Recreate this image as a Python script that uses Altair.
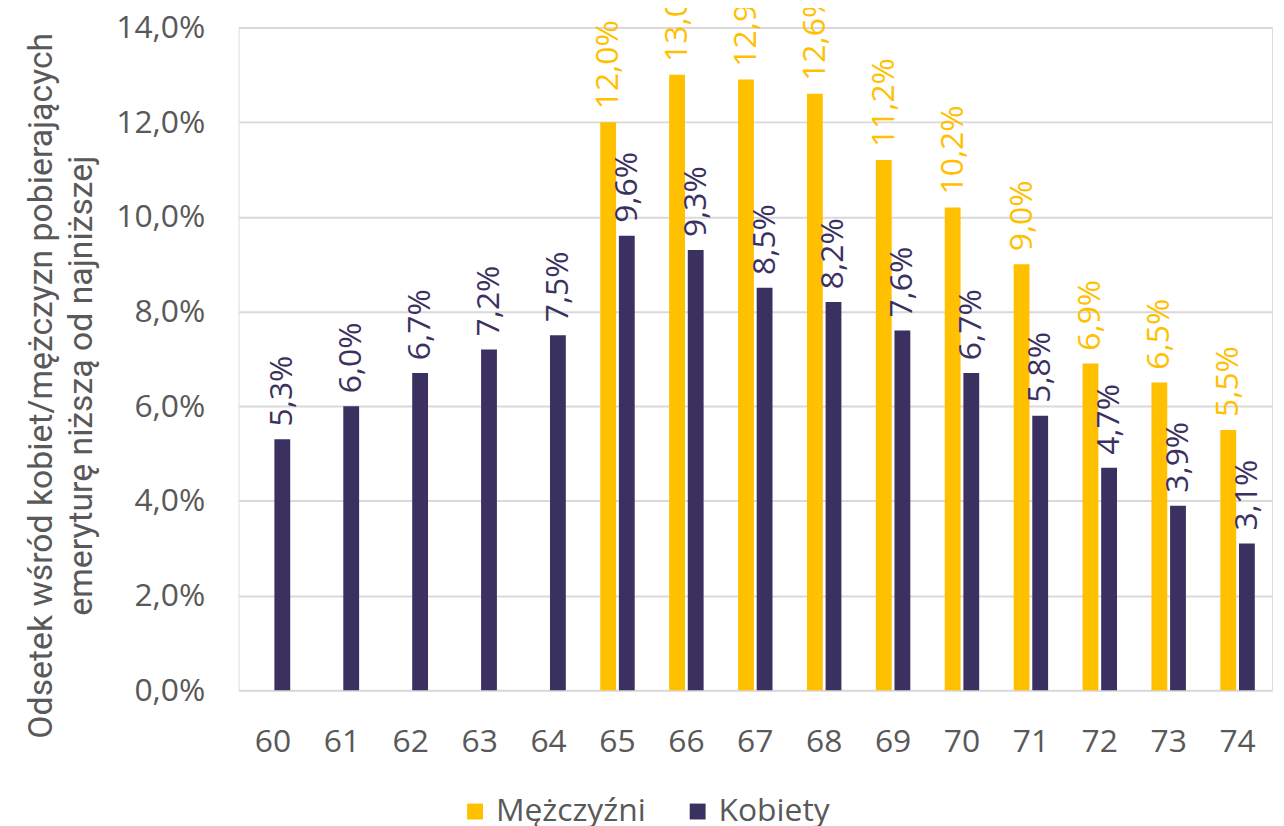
import altair as alt
import pandas as pd

ages = [60, 61, 62, 63, 64, 65, 66, 67, 68, 69, 70, 71, 72, 73, 74]
women = [5.3, 6.0, 6.7, 7.2, 7.5, 9.6, 9.3, 8.5, 8.2, 7.6, 6.7, 5.8, 4.7, 3.9, 3.1]
men_ages = [65, 66, 67, 68, 69, 70, 71, 72, 73, 74]
men = [12.0, 13.0, 12.9, 12.6, 11.2, 10.2, 9.0, 6.9, 6.5, 5.5]
series_names = ["Mężczyźni", "Kobiety"]
series_colors = ["#FFC000", "#3B3161"]
y_ticks = [0, 2, 4, 6, 8, 10, 12, 14]
y_title = ["Odsetek wśród kobiet/mężczyzn pobierających", "emeryturę niższą od najniższej"]

rows = []
for a, v in zip(men_ages, men):
    rows.append({"age": a, "series": series_names[0], "v": v})
for a, v in zip(ages, women):
    rows.append({"age": a, "series": series_names[1], "v": v})
df = pd.DataFrame(rows)

FONT = "Open Sans"
GRAY = "#595959"
FS = 32

x = alt.X("age:O", title=None,
          scale=alt.Scale(domain=ages, paddingInner=0.5, paddingOuter=0.25),
          axis=alt.Axis(labelAngle=0, labelFont=FONT, labelFontSize=FS, labelColor=GRAY,
                        labelPadding=37, ticks=False, domain=False, grid=False))
xo = alt.XOffset("series:N", scale=alt.Scale(domain=series_names, paddingInner=0.15))
y = alt.Y("v:Q", scale=alt.Scale(domain=[0, 14], nice=False),
          axis=alt.Axis(values=y_ticks, title=y_title,
                        labelExpr="replace(format(datum.value, '.1f'), '.', ',') + '%'",
                        labelFont=FONT, labelFontSize=FS, labelColor=GRAY, labelPadding=34,
                        ticks=False, domain=False, grid=True, gridColor="#D9D9D9", gridWidth=2,
                        titleFont="Roboto", titleFontSize=34, titleFontWeight="normal",
                        titleColor=GRAY, titleAngle=-90, titleAlign="center",
                        titleBaseline="middle", titleX=-198, titleY=360, titleLineHeight=40))
color = alt.Color("series:N", scale=alt.Scale(domain=series_names, range=series_colors),
                  legend=alt.Legend(title=None, orient="none", direction="horizontal",
                                    legendX=222, legendY=773, symbolType="square",
                                    symbolSize=256, symbolStrokeWidth=0,
                                    labelFont=FONT, labelFontSize=FS, labelColor=GRAY,
                                    columnPadding=36, labelOffset=5))

base = alt.Chart(df)
bars = base.mark_bar().encode(x=x, xOffset=xo, y=y, color=color)
labels = base.transform_calculate(
    label="replace(format(datum.v, '.1f'), '.', ',') + '%'"
).mark_text(angle=270, align="left", baseline="middle", dx=13,
            font=FONT, fontSize=FS).encode(
    x=x, xOffset=xo, y=y, text="label:N",
    color=alt.Color("series:N", scale=alt.Scale(domain=series_names, range=series_colors), legend=None))

chart = alt.layer(bars, labels).properties(
    width=1040, height=667,
    autosize=alt.AutoSizeParams(type="none"),
    padding={"left": 232, "top": 17, "right": 4, "bottom": 140},
).configure_view(stroke=None).configure(background="white")

chart.save("out.html", embed_options={"renderer": "svg", "actions": False})
